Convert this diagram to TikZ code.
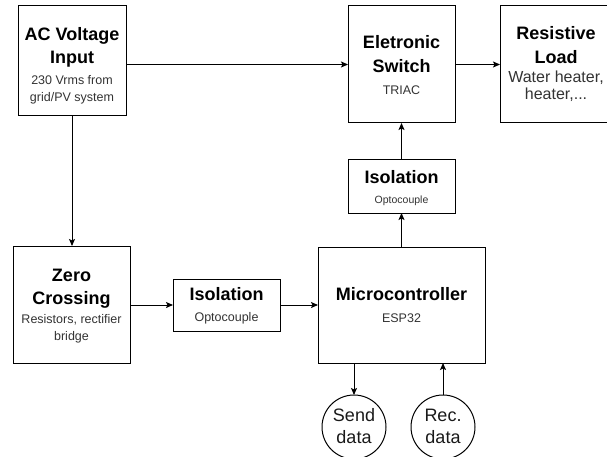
\documentclass[tikz,border=0pt]{standalone}
\usepackage{fontspec}
\setmainfont{Liberation Sans}
\usetikzlibrary{arrows.meta}
\definecolor{subc}{HTML}{333333}
\tikzset{
  blk/.style={draw=black, line width=1pt, fill=white, inner sep=0pt, outer sep=0pt},
  circ/.style={draw=black, line width=1pt, circle, minimum size=64pt, inner sep=0pt, outer sep=0pt},
  ttl/.style={anchor=base, inner sep=0pt, font=\fontsize{18}{22}\selectfont\bfseries},
  sub/.style={anchor=base, inner sep=0pt, text=subc, font=\fontsize{12.5}{17}\selectfont},
  subsmall/.style={anchor=base, inner sep=0pt, text=subc, font=\fontsize{10.5}{14}\selectfont},
  subbig/.style={anchor=base, inner sep=0pt, text=subc, font=\fontsize{16}{19}\selectfont},
  ctxt/.style={anchor=base, inner sep=0pt, text=black!90, font=\fontsize{18}{22}\selectfont},
  arr/.style={line width=1pt, -{Stealth[length=7pt,width=6pt,inset=1.5pt]}}
}
\begin{document}
\begin{tikzpicture}[x=1pt,y=-1pt]
\useasboundingbox (0,0) rectangle (607,457);
\clip (0,0) rectangle (607,457);
% boxes
\node[blk, minimum width=108pt, minimum height=110pt] (AC) at (72,61) {};
\node[blk, minimum width=107pt, minimum height=117pt] (SW) at (401.5,64.5) {};
\node[blk, minimum width=112pt, minimum height=117pt] (LD) at (556,64.5) {};
\node[blk, minimum width=107pt, minimum height=53pt] (IT) at (401.5,186.5) {};
\node[blk, minimum width=167pt, minimum height=116pt] (MC) at (401.5,305) {};
\node[blk, minimum width=117pt, minimum height=117pt] (ZC) at (71.5,304.5) {};
\node[blk, minimum width=107pt, minimum height=52pt] (IB) at (226.5,305) {};
\node[circ] (SD) at (354,427) {};
\node[circ] (RD) at (443,427) {};
% texts
\node[ttl] (ac1) at (72,41) {AC Voltage};
\node[ttl] (ac2) at (72,63.5) {Input};
\node[sub] (ac3) at (72,84.5) {230 Vrms from};
\node[sub] (ac4) at (72,101.5) {grid/PV system};
\node[ttl] (sw1) at (401.5,48.5) {Eletronic};
\node[ttl] (sw2) at (401.5,72.5) {Switch};
\node[sub] (sw3) at (401.5,95) {TRIAC};
\node[ttl] (ld1) at (556,40) {Resistive};
\node[ttl] (ld2) at (556,64) {Load};
\node[subbig] (ld3) at (556,83) {Water heater,};
\node[subbig] (ld4) at (556,100) {heater,...};
\node[ttl] (it1) at (401.5,183) {Isolation};
\node[subsmall] (it2) at (401.5,204) {Optocouple};
\node[ttl] (mc1) at (401.5,300.5) {Microcontroller};
\node[sub] (mc2) at (401.5,322.5) {ESP32};
\node[ttl] (zc1) at (71.5,281.5) {Zero};
\node[ttl] (zc2) at (71.5,304) {Crossing};
\node[sub] (zc3) at (71.5,323) {Resistors, rectifier};
\node[sub] (zc4) at (71.5,340) {bridge};
\node[ttl] (ib1) at (226.5,300.5) {Isolation};
\node[sub] (ib2) at (226.5,321.5) {Optocouple};
\node[ctxt] (sd1) at (354,421.5) {Send};
\node[ctxt] (sd2) at (354,443) {data};
\node[ctxt] (rd1) at (443,421.5) {Rec.};
\node[ctxt] (rd2) at (443,443) {data};
% connectors
\draw[arr] (AC.east |- SW.west) -- (SW.west);
\draw[arr] (SW.east) -- (SW.east -| LD.west);
\draw[arr] (AC.south) -- (AC.south |- ZC.north);
\draw[arr] (ZC.east |- IB.west) -- (IB.west);
\draw[arr] (IB.east) -- (IB.east -| MC.west);
\draw[arr] (MC.north) -- (IT.south);
\draw[arr] (IT.north) -- (SW.south);
\draw[arr] (MC.south -| SD.north) -- (SD.north);
\draw[arr] (RD.north) -- (RD.north |- MC.south);
\end{tikzpicture}
\end{document}
